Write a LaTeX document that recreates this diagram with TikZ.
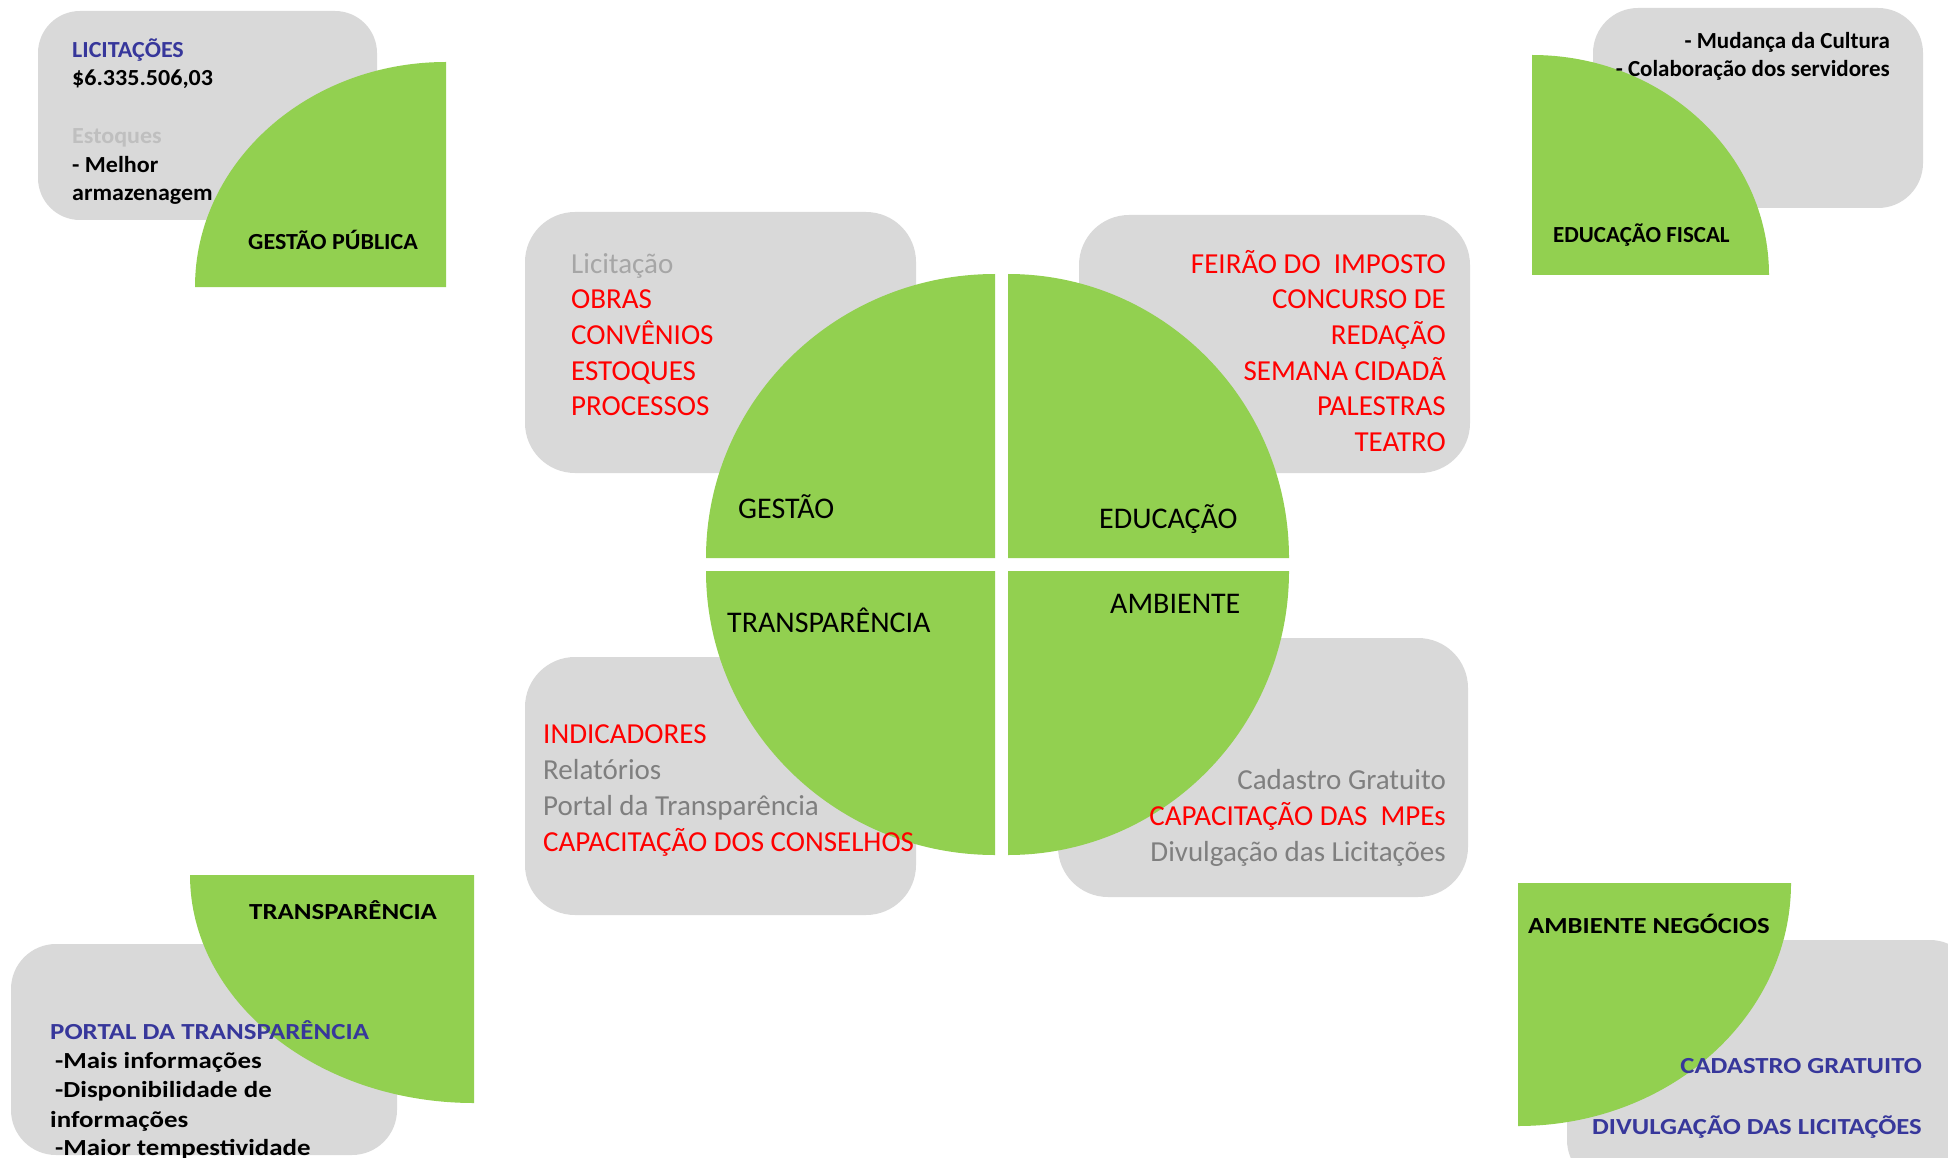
\documentclass[tikz,border=0pt]{standalone}
\usepackage{fontspec}
\setmainfont{Carlito}
\newfontfamily\wideA[FakeStretch=1.17]{Carlito}
\newfontfamily\wideB[FakeStretch=1.16]{Carlito}
\newfontfamily\wideC[FakeStretch=1.045]{Carlito}
\definecolor{qgreen}{HTML}{92D050}
\definecolor{boxgray}{HTML}{D9D9D9}
\definecolor{qred}{HTML}{FF0000}
\definecolor{qblue}{RGB}{55,55,155}
\definecolor{lgray}{HTML}{A6A6A6}
\definecolor{mgray}{HTML}{7F7F7F}
\definecolor{xgray}{HTML}{BFBFBF}
\begin{document}
\begin{tikzpicture}[x=1pt,y=-1pt,
  graybox/.style={fill=boxgray,draw=none},
  quad/.style={fill=qgreen,draw=none},
  big/.style={inner sep=0pt,font=\fontsize{29}{35}\selectfont},
  lbl/.style={inner sep=0pt,font=\fontsize{30}{36}\selectfont,text=black},
  small/.style={inner sep=0pt,font=\fontsize{23}{28}\selectfont\bfseries},
  smalltl/.style={inner sep=0pt,font=\wideC\fontsize{23}{28}\selectfont\bfseries},
  smallbl/.style={inner sep=0pt,font=\wideA\fontsize{23}{28}\selectfont\bfseries},
  smallbr/.style={inner sep=0pt,font=\wideB\fontsize{23}{28}\selectfont\bfseries},
  lw/.style={anchor=base west},
  le/.style={anchor=base east}]
\useasboundingbox (0,0) rectangle (1948,1158);
\clip (0,0) rectangle (1948,1158);
% ---- gray boxes
\fill[graybox,rounded corners=42pt] (38,11) rectangle (377,220);
\fill[graybox,rounded corners=45pt] (1593,8) rectangle (1923,208);
\fill[graybox,rounded corners=45pt] (11,944) rectangle (397,1155);
\fill[graybox,rounded corners=45pt] (1567,940) rectangle (1975,1185);
\fill[graybox,rounded corners=50pt] (525,212) rectangle (916,473);
\fill[graybox,rounded corners=50pt] (1079,215) rectangle (1470,473);
\fill[graybox,rounded corners=50pt] (525,657) rectangle (916,915);
\fill[graybox,rounded corners=50pt] (1058,638) rectangle (1468,897);
% ---- corner quadrants
\fill[quad] (446,287) -- (446,62) arc[start angle=270,end angle=180,x radius=251,y radius=225] -- cycle;
\fill[quad] (1532,275) -- (1532,55) arc[start angle=270,end angle=360,x radius=237,y radius=220] -- cycle;
\fill[quad] (474,875) -- (190,875) arc[start angle=180,end angle=90,x radius=284,y radius=228] -- cycle;
\fill[quad] (1518,883) -- (1791,883) arc[start angle=0,end angle=90,x radius=273,y radius=243] -- cycle;
% ---- central quadrants
\fill[quad] (995,558) -- (995,274) arc[start angle=270,end angle=180,x radius=289,y radius=284] -- cycle;
\fill[quad] (1008,558) -- (1008,274) arc[start angle=270,end angle=360,x radius=281,y radius=284] -- cycle;
\fill[quad] (995,571) -- (706,571) arc[start angle=180,end angle=90,x radius=289,y radius=284] -- cycle;
\fill[quad] (1008,571) -- (1289,571) arc[start angle=0,end angle=90,x radius=281,y radius=284] -- cycle;
% ---- central labels
\node[lbl,lw] (gestao) at (738,518) {GESTÃO};
\node[lbl,lw] (educacao) at (1099,528) {EDUCAÇÃO};
\node[lbl,lw] (transp) at (727,632) {TRANSPARÊNCIA};
\node[lbl,lw] (ambiente) at (1110,613) {AMBIENTE};
% ---- top-left central box
\node[big,lw,text=lgray] (t1) at (571,273) {Licitação};
\node[big,lw,text=qred] (t2) at (571,308) {OBRAS};
\node[big,lw,text=qred] (t3) at (571,344) {CONVÊNIOS};
\node[big,lw,text=qred] (t4) at (571,380) {ESTOQUES};
\node[big,lw,text=qred] (t5) at (571,415) {PROCESSOS};
% ---- top-right central box
\node[big,le,text=qred] (e1) at (1446,273) {FEIRÃO DO\ \ IMPOSTO};
\node[big,le,text=qred] (e2) at (1446,308) {CONCURSO DE};
\node[big,le,text=qred] (e3) at (1446,344) {REDAÇÃO};
\node[big,le,text=qred] (e4) at (1446,380) {SEMANA CIDADÃ};
\node[big,le,text=qred] (e5) at (1446,415) {PALESTRAS};
\node[big,le,text=qred] (e6) at (1446,451) {TEATRO};
% ---- bottom-left central box
\node[big,lw,text=qred] (b1) at (543,743) {INDICADORES};
\node[big,lw,text=mgray] (b2) at (543,779) {Relatórios};
\node[big,lw,text=mgray] (b3) at (543,815) {Portal da Transparência};
\node[big,lw,text=qred] (b4) at (543,851) {CAPACITAÇÃO DOS CONSELHOS};
% ---- bottom-right central box
\node[big,le,text=mgray] (a1) at (1446,789) {Cadastro Gratuito};
\node[big,le,text=qred] (a2) at (1446,825) {CAPACITAÇÃO DAS\ \ MPEs};
\node[big,le,text=mgray] (a3) at (1446,861) {Divulgação das Licitações};
% ---- top-left corner
\node[smalltl,lw,text=qblue] (c1) at (72,58) {LICITAÇÕES};
\node[smalltl,lw,text=black] (c2) at (72,86) {\$6.335.506,03};
\node[smalltl,lw,text=xgray] (c3) at (72,144) {Estoques};
\node[smalltl,lw,text=black] (c4) at (72,173) {- Melhor};
\node[smalltl,lw,text=black] (c5) at (72,201) {armazenagem};
\node[smalltl,lw,text=black] (c6) at (248,250) {GESTÃO PÚBLICA};
% ---- top-right corner
\node[small,le,text=black] (d1) at (1890,49) {- Mudança da Cultura};
\node[small,le,text=black] (d2) at (1890,77) {- Colaboração dos servidores};
\node[small,lw,text=black] (d3) at (1553,243) {EDUCAÇÃO FISCAL};
% ---- bottom-left corner
\node[smallbl,lw,text=black] (f1) at (249,919) {TRANSPARÊNCIA};
\node[smallbl,lw,text=qblue] (f2) at (50,1039) {PORTAL DA TRANSPARÊNCIA};
\node[smallbl,lw,text=black] (f3) at (55,1068) {-Mais informações};
\node[smallbl,lw,text=black] (f4) at (55,1097) {-Disponibilidade de};
\node[smallbl,lw,text=black] (f5) at (50,1127) {informações};
\node[smallbl,lw,text=black] (f6) at (55,1155) {-Maior tempestividade};
% ---- bottom-right corner
\node[smallbr,lw,text=black] (g1) at (1528,933) {AMBIENTE NEGÓCIOS};
\node[smallbr,le,text=qblue] (g2) at (1922,1073) {CADASTRO GRATUITO};
\node[smallbr,le,text=qblue] (g3) at (1922,1134) {DIVULGAÇÃO DAS LICITAÇÕES};
\end{tikzpicture}
\end{document}
